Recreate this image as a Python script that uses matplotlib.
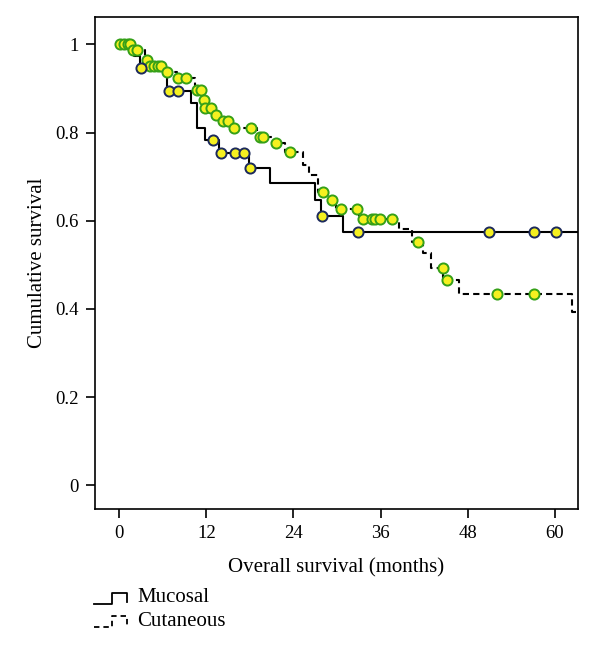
import numpy as np
import matplotlib
matplotlib.use("Agg")
import matplotlib.pyplot as plt
from matplotlib.lines import Line2D

# ---- data ----
muc_times = [0, 2.0, 2.9, 6.6, 9.9, 10.7, 11.8, 13.7, 17.9, 20.8, 27.0, 27.8, 30.8]
muc_surv = [1.0, 0.974, 0.947, 0.894, 0.867, 0.81, 0.783, 0.754, 0.72, 0.686, 0.647, 0.611, 0.574]
muc_censor = [3.0, 6.8, 8.1, 12.9, 14.0, 15.9, 17.2, 18.0, 27.9, 32.9, 51.0, 57.1, 60.2]

cut_times = [0, 1.7, 3.6, 3.9, 6.4, 7.9, 10.4, 11.5, 11.75, 13.0, 13.8, 15.5, 19.0, 21.0,
             22.9, 25.3, 26.2, 27.4, 28.8, 29.9, 33.1, 38.5, 40.4, 41.9, 42.9, 44.6, 46.8, 62.4]
cut_surv = [1.0, 0.988, 0.965, 0.951, 0.938, 0.924, 0.897, 0.874, 0.856, 0.84, 0.826, 0.81,
            0.79, 0.776, 0.756, 0.726, 0.704, 0.665, 0.647, 0.627, 0.604, 0.58, 0.552, 0.527,
            0.493, 0.465, 0.434, 0.393]
cut_censor = [0.1, 0.6, 1.2, 1.5, 1.9, 2.5, 3.8, 4.2, 4.8, 5.4, 5.8, 6.6, 8.1, 9.2, 10.7,
              11.3, 11.7, 11.8, 12.6, 13.3, 14.3, 15.0, 15.8, 18.1, 19.4, 19.8, 21.6, 23.5,
              28.1, 29.3, 30.5, 32.7, 33.6, 34.8, 35.2, 35.9, 37.6, 41.2, 44.55, 45.2, 52.0, 57.1]

x_ticks = [0, 12, 24, 36, 48, 60]
y_ticks = [0, 0.2, 0.4, 0.6, 0.8, 1]
y_ticklabels = ["0", "0.2", "0.4", "0.6", "0.8", "1"]
series_names = ["Mucosal", "Cutaneous"]

XMIN, XMAX = -3.4, 63.2
YMIN, YMAX = -0.054, 1.062

plt.rcParams['font.family'] = ['Liberation Serif', 'DejaVu Serif']

fig = plt.figure(figsize=(6.0, 6.56), dpi=100)
ax = fig.add_axes([94.5/600, 1-509/656, (578-94.5)/600, (509-17)/656])

def step_vals(times, surv, t):
    idx = np.searchsorted(np.asarray(times), np.asarray(t), side='right') - 1
    return np.asarray(surv)[idx]

face = '#f5f020'
muc_edge = '#1c2a5c'
cut_edge = '#35a018'

# step lines
mt = list(muc_times) + [XMAX]
ms = list(muc_surv) + [muc_surv[-1]]
ax.step(mt, ms, where='post', color='black', lw=1.5, zorder=2)

ct = list(cut_times) + [XMAX]
cs = list(cut_surv) + [cut_surv[-1]]
ax.step(ct, cs, where='post', color='black', lw=1.5, ls=(0, (3.0, 2.0)), zorder=2)

# censor markers
ax.plot(cut_censor, step_vals(cut_times, cut_surv, cut_censor), 'o', ms=7.3,
        mfc=face, mec=cut_edge, mew=1.4, ls='none', zorder=3)
ax.plot(muc_censor, step_vals(muc_times, muc_surv, muc_censor), 'o', ms=7.3,
        mfc=face, mec=muc_edge, mew=1.4, ls='none', zorder=4)

ax.set_xlim(XMIN, XMAX)
ax.set_ylim(YMIN, YMAX)
ax.set_xticks(x_ticks)
ax.set_yticks(y_ticks)
ax.set_yticklabels(y_ticklabels)
ax.tick_params(direction='out', length=6.5, width=1.2, labelsize=13.5, pad=5)
for s in ax.spines.values():
    s.set_linewidth(1.2)

ax.set_xlabel("Overall survival (months)", fontsize=15, labelpad=12)
ax.set_ylabel("Cumulative survival", fontsize=15, labelpad=6)

# legend with step-shaped handles (figure pixel coordinates)
def fx(px):
    return px / 600.0

def fy(py):
    return 1 - py / 656.0

h1 = Line2D([fx(94), fx(112), fx(112), fx(127), fx(127)],
            [fy(604), fy(604), fy(593), fy(593), fy(602)],
            transform=fig.transFigure, color='black', lw=1.3)
h2 = Line2D([fx(94), fx(112), fx(112), fx(127), fx(127)],
            [fy(627), fy(627), fy(616), fy(616), fy(627)],
            transform=fig.transFigure, color='black', lw=1.3, ls=(0, (3, 2.2)))
fig.add_artist(h1)
fig.add_artist(h2)
fig.text(fx(137), fy(598), series_names[0], fontsize=15, va='center', ha='left')
fig.text(fx(137), fy(622), series_names[1], fontsize=15, va='center', ha='left')

fig.savefig("out.png", dpi=100)
